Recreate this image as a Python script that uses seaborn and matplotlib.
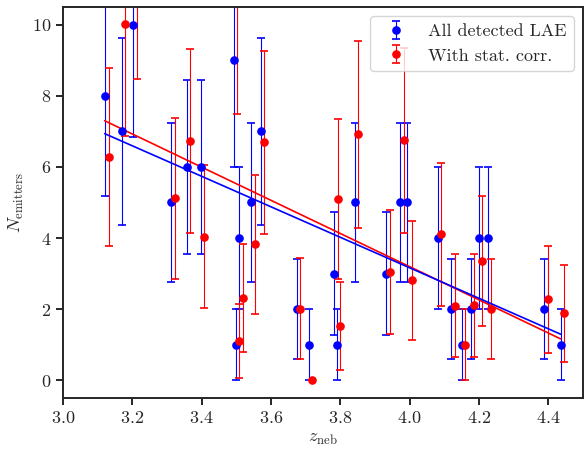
import numpy as np
import pandas as pd
import matplotlib
matplotlib.use('Agg')
import matplotlib.pyplot as plt
import seaborn as sns

# emitter counts per redshift bin
blue_z = [3.120, 3.170, 3.203, 3.312, 3.357, 3.397, 3.494, 3.499, 3.508, 3.542,
          3.570, 3.674, 3.709, 3.781, 3.790, 3.842, 3.933, 3.972, 3.994, 4.081,
          4.120, 4.150, 4.177, 4.200, 4.225, 4.389, 4.436]
blue_n = [8, 7, 10, 5, 6, 6, 9, 1, 4, 5,
          7, 2, 1, 3, 1, 5, 3, 5, 5, 4,
          2, 1, 2, 4, 4, 2, 1]

red_z = [3.132, 3.179, 3.214, 3.322, 3.367, 3.407, 3.503, 3.509, 3.518, 3.554,
         3.581, 3.685, 3.719, 3.792, 3.799, 3.852, 3.944, 3.983, 4.006, 4.090,
         4.131, 4.160, 4.187, 4.210, 4.236, 4.399, 4.446]
red_n = [6.29, 10.03, 11.93, 5.12, 6.74, 4.04, 10.78, 1.10, 2.31, 3.82,
         6.69, 2.01, 0.0, 5.09, 1.52, 6.92, 3.04, 6.75, 2.81, 4.10,
         2.09, 1.00, 2.10, 3.35, 2.00, 2.27, 1.88]

# linear fits (slope, intercept)
blue_fit = (-4.292, 20.33)
red_fit = (-4.669, 21.87)

labels = ['All detected LAE', 'With stat. corr.']

sns.set_style("ticks")
plt.rcParams['font.family'] = 'serif'
plt.rcParams['font.serif'] = ['cmr10']
plt.rcParams['mathtext.fontset'] = 'cm'
plt.rcParams['axes.formatter.use_mathtext'] = True
plt.rcParams['font.size'] = 13

fig, ax = plt.subplots(figsize=(5.84, 4.49), dpi=100)
fig.subplots_adjust(left=0.108, right=0.998, top=0.984, bottom=0.114)

df_b = pd.DataFrame({'z': blue_z, 'n': blue_n})
df_r = pd.DataFrame({'z': red_z, 'n': red_n})

ax.errorbar(df_b.z, df_b.n, yerr=np.sqrt(df_b.n), fmt='o', color='blue', ms=5.2,
            elinewidth=0.8, capsize=2.8, capthick=1.2, label=labels[0])
ax.errorbar(df_r.z, df_r.n, yerr=np.sqrt(df_r.n), fmt='o', color='red', ms=5.2,
            elinewidth=0.8, capsize=2.8, capthick=1.2, label=labels[1])

xfit = np.array([min(blue_z), max(blue_z)])
sns.lineplot(x=xfit, y=red_fit[0] * xfit + red_fit[1], color='red', lw=1.2, ax=ax)
sns.lineplot(x=xfit, y=blue_fit[0] * xfit + blue_fit[1], color='blue', lw=1.2, ax=ax)

ax.set_xlim(3.0, 4.5)
ax.set_ylim(-0.5, 10.5)
ax.set_xticks([3.0, 3.2, 3.4, 3.6, 3.8, 4.0, 4.2, 4.4])
ax.set_yticks([0, 2, 4, 6, 8, 10])
ax.set_xlabel(r'$z_{\rm neb}$')
ax.set_ylabel(r'$N_{\rm emitters}$')
for s in ax.spines.values():
    s.set_linewidth(1.4)
ax.tick_params(direction='out', length=5, width=1.4, labelsize=13)
ax.legend(loc='upper right', fontsize=13, frameon=True)

plt.savefig('out.png', dpi=100)
plt.close()
